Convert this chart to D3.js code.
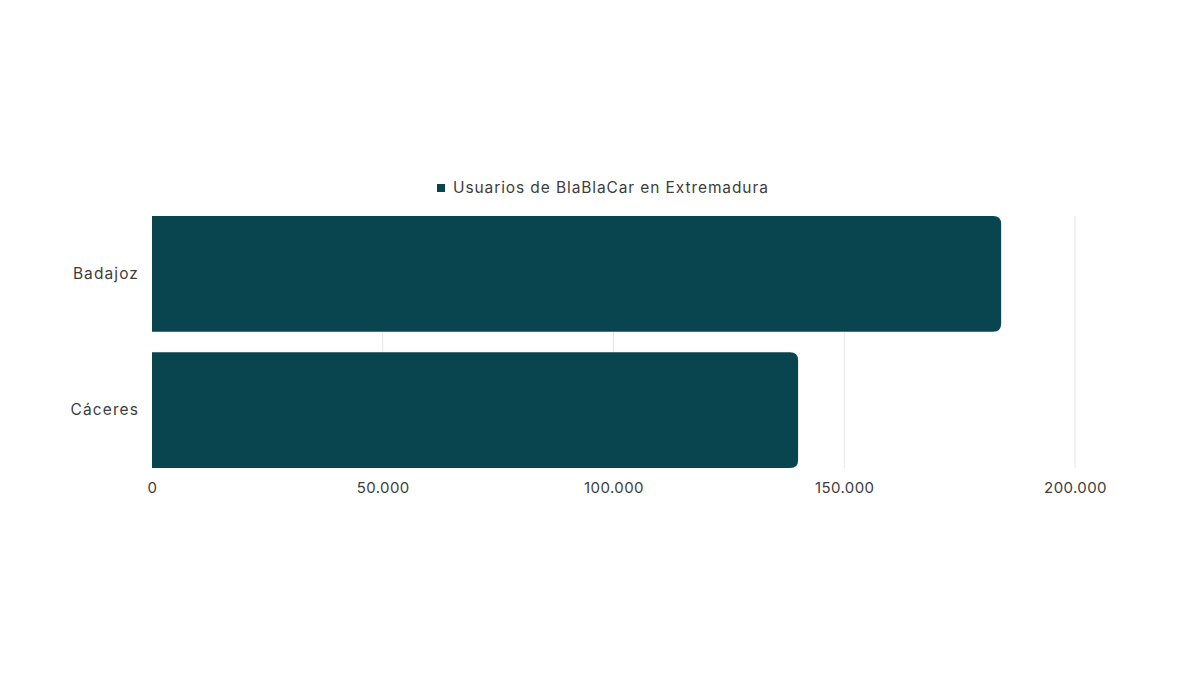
<!DOCTYPE html>
<html>
<head>
<meta charset="utf-8">
<style>
  body { margin: 0; background: #fff; }
  text { font-family: "Inter", "Noto Sans", sans-serif; fill: #3d3d3d; }
  .grid line { stroke: #e6e6e6; stroke-width: 1px; }
</style>
</head>
<body>
<div id="chart"></div>
<script src="https://d3js.org/d3.v7.min.js"></script>
<script>

// data
var provincias = ["Badajoz", "Cáceres"];
var usuarios = [184000, 140000];
var xTicks = [0, 50000, 100000, 150000, 200000];
var seriesName = "Usuarios de BlaBlaCar en Extremadura";

var width = 1200, height = 679;
var margin = {top: 216, right: 125, bottom: 211, left: 152};

var svg = d3.select("#chart").append("svg")
    .attr("width", width)
    .attr("height", height);

var x = d3.scaleLinear().domain([0, 200000]).range([margin.left, width - margin.right]);
var y = d3.scaleBand().domain(provincias)
    .range([margin.top, height - margin.bottom])
    .paddingInner(0.15).paddingOuter(0);

var fmt = function(d) { return d3.format(",")(d).replace(/,/g, "."); };

// gridlines
svg.append("g").attr("class", "grid")
  .selectAll("line").data(xTicks.slice(1)).enter().append("line")
    .attr("x1", function(d) { return x(d); })
    .attr("x2", function(d) { return x(d); })
    .attr("y1", margin.top)
    .attr("y2", height - margin.bottom);

// bars with rounded right corners
var r = 8;
svg.append("g").selectAll("path").data(provincias).enter().append("path")
    .attr("fill", "#08454f")
    .attr("d", function(d, i) {
      var x0 = x(0), x1 = x(usuarios[i]), y0 = y(d), y1 = y(d) + y.bandwidth();
      return "M" + x0 + "," + y0 +
        "H" + (x1 - r) +
        "Q" + x1 + "," + y0 + " " + x1 + "," + (y0 + r) +
        "V" + (y1 - r) +
        "Q" + x1 + "," + y1 + " " + (x1 - r) + "," + y1 +
        "H" + x0 + "Z";
    });

// x axis labels
var xAxis = svg.append("g")
    .attr("transform", "translate(0," + (height - margin.bottom) + ")")
    .call(d3.axisBottom(x).tickValues(xTicks).tickFormat(fmt).tickSize(0).tickPadding(14));
xAxis.select(".domain").remove();
xAxis.selectAll("text").style("font-size", "15px").style("letter-spacing", "0.4px").attr("fill", "#3d3d3d");

// y axis labels
var yAxis = svg.append("g")
    .attr("transform", "translate(" + margin.left + ",0)")
    .call(d3.axisLeft(y).tickSize(0).tickPadding(13));
yAxis.select(".domain").remove();
yAxis.selectAll("text").style("font-size", "15.5px").style("letter-spacing", "1.1px").attr("fill", "#3d3d3d");

// legend
var legend = svg.append("g").attr("transform", "translate(437,188)");
legend.append("rect").attr("x", 0).attr("y", -4).attr("width", 8).attr("height", 8).attr("fill", "#08454f");
legend.append("text").attr("x", 16).attr("y", 0).attr("dy", "0.35em")
    .style("font-size", "15.5px").style("letter-spacing", "0.9px").text(seriesName);

</script>
</body>
</html>
